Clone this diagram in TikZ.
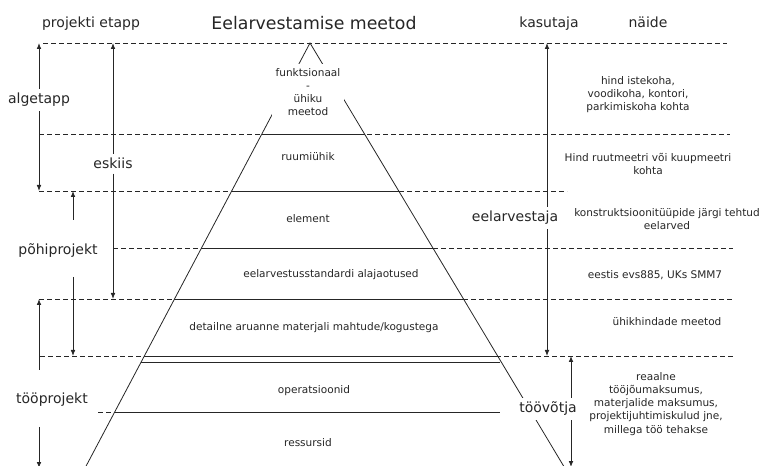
\documentclass[tikz,border=0pt]{standalone}
\usepackage{fontspec}
\setmainfont{DejaVu Sans}
\usetikzlibrary{arrows.meta}
\tikzset{
	small/.style={font=\fontsize{7.9}{9.8}\selectfont},
	big/.style={font=\fontsize{10.5}{12}\selectfont},
	lbl/.style={big, fill=white, inner sep=3pt},
	guide/.style={dash pattern=on 3.75pt off 2.25pt},
}
\begin{document}
\begin{tikzpicture}[x=0.75pt, y=-0.75pt, line width=0.6pt, color=black!85, >={Latex[length=4.5pt,width=3.5pt]}]
		\useasboundingbox (0,0) rectangle (764,466);
		
		\foreach \y/\a/\b in {43/43/727, 134/39/730, 191/39/567, 248/113/733, 299/39/733, 356/40/733, 412/98/180}
		\draw[guide] (\a,\y) -- (\b,\y);
		
		\coordinate (apex) at (310,43);
		\coordinate (bl) at (84,470);
		\coordinate (br) at (566,470);
		\draw (bl) -- (apex) -- (br);
		\foreach \y in {134,191,248,299,356}
		\draw ({310-0.53*(\y-43)},\y) -- ({310+0.6*(\y-43)},\y);
		\foreach \y in {362,412}
		\draw ({310-0.53*(\y-43)},\y) -- (500,\y);
		
		\node [big, anchor=base] (etapp) at (91,28) {projekti etapp};
		\node [font=\fontsize{13}{15}\selectfont, anchor=base] (meetod) at (314,30) {Eelarvestamise meetod};
		\node [big, anchor=base] (kasutaja) at (549,28) {kasutaja};
		\node [big, anchor=base] (naide) at (648,28) {näide};
		
		\node [small, align=center, fill=white, inner sep=3pt] (funk) at (308,92) {funktsionaal\\-\\ühiku\\meetod};
		\node [small, anchor=base] (ruum) at (308,161) {ruumiühik};
		\node [small, anchor=base] (elem) at (308,223) {element};
		\node [small, anchor=base] (std) at (331,278) {eelarvestusstandardi alajaotused};
		\node [small, anchor=base] (det) at (314,331) {detailne aruanne materjali mahtude/kogustega};
		\node [small, anchor=base] (oper) at (314,394) {operatsioonid};
		\node [small, anchor=base] (ress) at (308,446) {ressursid};
		
		\node [small, align=center] (ex1) at (638,95) {hind istekoha,\\voodikoha, kontori,\\parkimiskoha kohta};
		\node [small, align=center] (ex2) at (648,164) {Hind ruutmeetri või kuupmeetri\\kohta};
		\node [small, align=center] (ex3) at (667,219) {konstruktsioonitüüpide järgi tehtud\\eelarved};
		\node [small, anchor=base] (ex4) at (655,279) {eestis evs885, UKs SMM7};
		\node [small, anchor=base] (ex5) at (667,326) {ühikhindade meetod};
		\node [small, align=center] (ex6) at (656,404) {reaalne\\tööjõumaksumus,\\materjalide maksumus,\\projektijuhtimiskulud jne,\\millega töö tehakse};
		
		\coordinate (alg-top) at (39,43);
		\coordinate (alg-bot) at (39,191);
		\node [lbl, anchor=base] (alg) at (39,104) {algetapp};
		\coordinate (esk-top) at (113,43);
		\coordinate (esk-bot) at (113,299);
		\node [lbl, anchor=base] (esk) at (113,169) {eskiis};
		\coordinate (pohi-a) at (73,220);
		\coordinate (pohi-top) at (73,191);
		\coordinate (pohi-b) at (73,277);
		\coordinate (pohi-bot) at (73,356);
		\node [big, anchor=base] (pohi) at (58,255) {põhiprojekt};
		\coordinate (too-a) at (39,370);
		\coordinate (too-top) at (39,299);
		\coordinate (too-b) at (39,427);
		\coordinate (too-bot) at (39,468);
		\node [big, anchor=base] (too) at (52,404) {tööprojekt};
		\coordinate (eel-top) at (547,43);
		\coordinate (eel-bot) at (547,356);
		\node [lbl, anchor=base] (eel) at (515,222) {eelarvestaja};
		\coordinate (tvo-top) at (571,356);
		\coordinate (tvo-bot) at (571,467);
		\node [lbl, anchor=base] (tvo) at (548,413) {töövõtja};
		
		\draw[->]
		(alg) -- (alg-top);
		\draw[->]
		(alg) -- (alg-bot);
		\draw[->]
		(esk) -- (esk-top);
		\draw[->]
		(esk) -- (esk-bot);
		\draw[->]
		(pohi-a) -- (pohi-top);
		\draw[->]
		(pohi-b) -- (pohi-bot);
		\draw[->]
		(too-a) -- (too-top);
		\draw[->]
		(too-b) -- (too-bot);
		\draw[->]
		(eel-top |- eel.north) -- (eel-top);
		\draw[->]
		(eel-top |- eel.south) -- (eel-bot);
		\draw[->]
		(tvo-top |- tvo.north) -- (tvo-top);
		\draw[->]
		(tvo-top |- tvo.south) -- (tvo-bot);
		
\end{tikzpicture}
\end{document}
